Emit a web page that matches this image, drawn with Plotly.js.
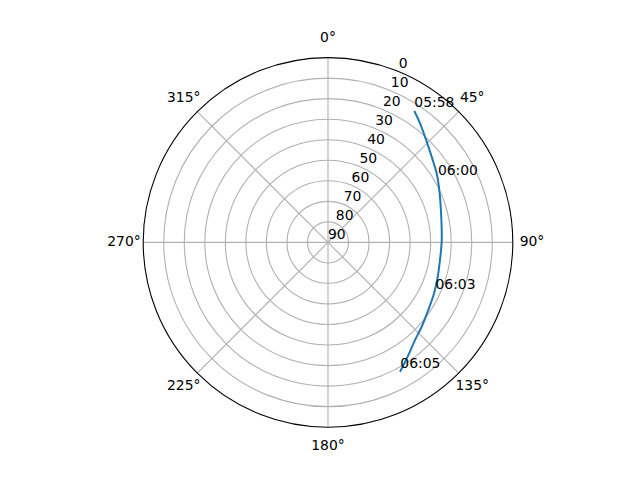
<!DOCTYPE html>
<html>
<head>
<meta charset="utf-8">
<script src="https://cdn.plot.ly/plotly-3.0.1.min.js"></script>
<style>
  html, body { margin: 0; padding: 0; background: #ffffff; }
  #chart { width: 640px; height: 480px; }
</style>
</head>
<body>
<div id="chart"></div>
<script>
// satellite pass, azimuth (deg, clockwise from north) and elevation (deg)
const trackAz = [33.3, 37.7, 44.4, 50.4, 57.6, 64.8, 74.0, 88.8, 98.9, 107.4, 115.6, 124.0, 132.0, 138.3, 144.5, 150.9];
const trackEl = [13.4, 16.7, 21.3, 24.5, 27.3, 30.1, 32.8, 34.6, 34.8, 34.0, 32.7, 31.1, 28.6, 26.3, 22.6, 17.9];

// time marks along the pass
const markTimes = ["05:58", "06:00", "06:03", "06:05"];
const markAz = [33.3, 60.0, 114.9, 150.8];
const markEl = [13.4, 28.2, 32.3, 17.8];

const radialTicks = [0, 10, 20, 30, 40, 50, 60, 70, 80, 90];
const angleTicks = [0, 45, 90, 135, 180, 225, 270, 315];

// r labels run along 22.5 deg like matplotlib
const rLabelAngle = 22.5;

const font = { family: "DejaVu Sans, sans-serif", size: 13.9, color: "#000000" };

const data = [
    {
        type: "scatterpolar",
        mode: "lines",
        r: trackEl,
        theta: trackAz,
        line: { color: "#1f77b4", width: 2, shape: "spline" },
        hoverinfo: "skip",
        showlegend: false
    },
    {
        type: "scatterpolar",
        mode: "text",
        r: markEl,
        theta: markAz,
        text: markTimes,
        textposition: "top right",
        textfont: font,
        cliponaxis: false,
        hoverinfo: "skip",
        showlegend: false
    },
    {
        // radial tick labels
        type: "scatterpolar",
        mode: "text",
        r: radialTicks,
        theta: radialTicks.map(() => rLabelAngle),
        text: radialTicks.map(String),
        textposition: "top right",
        textfont: font,
        cliponaxis: false,
        hoverinfo: "skip",
        showlegend: false
    },
    {
        // angular tick labels, on a bigger invisible polar so they sit centred outside the rim
        type: "scatterpolar",
        subplot: "polar2",
        mode: "text",
        r: angleTicks.map(() => 1),
        theta: angleTicks,
        text: angleTicks.map(a => a + "°"),
        textposition: "middle center",
        textfont: font,
        cliponaxis: false,
        hoverinfo: "skip",
        showlegend: false
    }
]

const hidden = { visible: false, showgrid: false, showline: false, showticklabels: false, ticks: "" }

const layout = {
    width: 640,
    height: 480,
    margin: { l: 0, r: 0, t: 0, b: 0, pad: 0 },
    paper_bgcolor: "#ffffff",
    font: font,
    showlegend: false,
    polar: {
        domain: { x: [0.22375, 0.80125], y: [0.11, 0.88] },
        bgcolor: "#ffffff",
        radialaxis: {
            range: [90, 0],
            tickvals: radialTicks,
            showticklabels: false,
            showline: false,
            ticks: "",
            gridcolor: "#b0b0b0",
            gridwidth: 1.1
        },
        angularaxis: {
            rotation: 90,
            direction: "clockwise",
            tickvals: angleTicks,
            showticklabels: false,
            showline: true,
            linecolor: "#000000",
            linewidth: 1.1,
            ticks: "",
            gridcolor: "#b0b0b0",
            gridwidth: 1.1
        }
    },
    polar2: {
        domain: { x: [0.19375, 0.83125], y: [0.07, 0.92] },
        bgcolor: "rgba(0,0,0,0)",
        radialaxis: Object.assign({ range: [0, 1] }, hidden),
        angularaxis: Object.assign({ rotation: 90, direction: "clockwise" }, hidden)
    }
}

Plotly.newPlot("chart", data, layout, { staticPlot: true })
</script>
</body>
</html>
